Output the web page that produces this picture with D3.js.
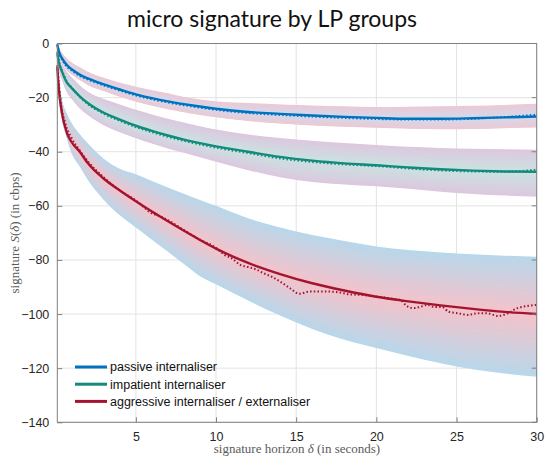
<!DOCTYPE html>
<html>
<head>
<meta charset="utf-8">
<script src="https://cdn.jsdelivr.net/npm/d3@7"></script>
<style>
  body { margin: 0; background: #fff; }
  svg { display: block; }
</style>
</head>
<body>
<svg id="chart" width="545" height="458"></svg>
<script>
// horizon grid (seconds)
const horizon = [0.1, 0.2, 0.4, 0.7, 1, 1.5, 2, 3, 4, 5, 6, 7, 8, 9, 10, 12, 14, 16, 18, 20, 22, 24, 26, 28, 30];

// fitted signatures
const passiveFit    = [-0.5, -3, -5.5, -8, -9.5, -11.5, -12.9, -15.1, -17, -18.8, -20.2, -21.4, -22.4, -23.3, -24.1, -25.3, -26, -26.6, -27.1, -27.5, -27.8, -27.8, -27.6, -27.3, -27];
const impatientFit  = [-3.6, -7, -10.5, -14.5, -16.5, -19.5, -22, -25.6, -28.1, -30.4, -32.3, -34, -35.5, -36.8, -38, -40, -41.9, -43.3, -44.3, -45, -45.8, -46.5, -47, -47.3, -47.4];
const aggressiveFit = [-8.6, -17, -26, -33, -36.5, -40, -44.2, -50, -54.3, -58.3, -62.1, -65.7, -69.2, -72.6, -75.8, -81.1, -85.2, -88.6, -91.3, -93.6, -95.3, -96.8, -98.1, -99.2, -100];

// confidence bands
const passiveUpper    = [0, -1.5, -3.5, -5.5, -7, -8.8, -10.4, -12.7, -14.5, -16, -17.3, -18.4, -19.8, -20.7, -21.4, -22, -22.5, -22.9, -23.2, -23.5, -23.4, -23.2, -23, -22.7, -22.3];
const passiveLower    = [-1, -4, -7, -10, -11.5, -13.5, -15.3, -17.6, -19.7, -21.5, -23, -24.3, -25.4, -26.4, -27.3, -28.6, -29.6, -30.3, -30.8, -31.1, -31.5, -31.7, -31.6, -31.3, -31];
const impatientUpper  = [-2, -4.5, -7.5, -10.5, -12.5, -15.5, -17.8, -20.5, -22.5, -24.5, -26.2, -27.8, -29.2, -30.6, -31.8, -33.6, -34.9, -35.9, -36.8, -37.5, -38.2, -38.6, -38.9, -39.1, -39.3];
const impatientLower  = [-4.5, -9.5, -13.5, -18, -20.5, -24, -26.4, -30.2, -32.8, -35, -37, -38.8, -40.4, -42, -43.7, -46.8, -49.4, -51.2, -52.1, -52.8, -53.7, -54.8, -55.6, -56.2, -56.6];
const aggressiveUpper = [-8, -14, -21, -26, -29.5, -33.5, -36.9, -42.6, -46.3, -48.3, -50.8, -53.2, -55.5, -57.8, -60, -64.6, -68, -70.8, -73, -75, -76.3, -77.2, -77.9, -78.4, -78.8];
const aggressiveLower = [-9, -20, -28.3, -35, -40.6, -45.5, -50.4, -57.8, -63.5, -68, -72.5, -77, -81.5, -86, -89, -95, -100.5, -105.5, -109.5, -112.5, -115.5, -118.2, -120.4, -122, -123.2];

// empirical (dotted) signatures
const passiveRaw   = [-0.3, -3.2, -6, -8.6, -10, -12, -13.3, -15.5, -17.4, -19.2, -20.6, -21.8, -22.8, -23.7, -24.5, -25.7, -26.4, -27, -27.5, -27.9, -28.1, -28.1, -27.8, -27.2, -26.3];
const impatientRaw = [-3, -6.5, -10, -14, -16.2, -19.8, -22.4, -26, -28.6, -30.9, -32.8, -34.5, -36, -37.3, -38.5, -40.5, -42.5, -43.8, -44.7, -45.3, -46.2, -46.9, -47.3, -47.4, -46.6];
const aggressiveRawX = [0.1, 0.3, 0.6, 1, 1.5, 2, 3, 4, 5, 6, 6.5, 7, 8, 9, 10, 10.5, 11, 11.5, 12, 12.5, 13, 13.5, 14, 14.6, 15.2, 15.8, 16.5, 17.1, 17.7, 18.3, 19, 20, 21, 21.5, 21.9, 22.3, 22.7, 23.2, 23.6, 24.1, 24.5, 25.1, 25.7, 26.3, 26.9, 27.6, 28.2, 28.8, 29.4, 30];
const aggressiveRaw  = [-8, -21, -29.5, -35, -39.5, -43.5, -49.5, -54.3, -58, -62.8, -63.8, -65.3, -69, -72.5, -75.5, -78, -79.5, -81.8, -82.6, -83.5, -85, -86.3, -88, -90.4, -92.5, -91.7, -91.7, -91.7, -92, -92.7, -92.9, -93.5, -94.3, -94.8, -97, -97.8, -97.4, -96.6, -97.4, -97.4, -99.1, -99.7, -100.3, -99.7, -99.7, -100.7, -99.7, -97.8, -97, -96.6];

const groupNames = ['passive internaliser', 'impatient internaliser', 'aggressive internaliser / externaliser'];
const xTicks = [5, 10, 15, 20, 25, 30];
const yTicks = [0, -20, -40, -60, -80, -100, -120, -140];

const groups = [
  { name: groupNames[0], color: '#0072BD', fit: passiveFit, upper: passiveUpper, lower: passiveLower,
    rawX: horizon, raw: passiveRaw, edge: '#ecc9d4', center: '#d3d9ec' },
  { name: groupNames[1], color: '#138a7c', fit: impatientFit, upper: impatientUpper, lower: impatientLower,
    rawX: horizon, raw: impatientRaw, edge: '#dcc8df', center: '#cbe2e1' },
  { name: groupNames[2], color: '#A2142F', fit: aggressiveFit, upper: aggressiveUpper, lower: aggressiveLower,
    rawX: aggressiveRawX, raw: aggressiveRaw, edge: '#b9d7ea', center: '#f3c3cb' }
];

const svg = d3.select('#chart');
const margin = { top: 43.5, left: 57.3 };
const innerWidth = 479.4;
const innerHeight = 378.8;

const xScale = d3.scaleLinear().domain([0.1, 30]).range([0, innerWidth]);
const yScale = d3.scaleLinear().domain([-140, 0]).range([innerHeight, 0]);

svg.append('text')
  .attr('x', 272)
  .attr('y', 27)
  .attr('text-anchor', 'middle')
  .attr('font-family', 'Lato, "Liberation Sans", sans-serif')
  .attr('font-size', 23)
  .attr('fill', '#111')
  .text('micro signature by LP groups');

const g = svg.append('g')
  .attr('transform', `translate(${margin.left},${margin.top})`);

// grid
g.append('g').selectAll('line').data(xTicks).enter().append('line')
  .attr('x1', d => xScale(d)).attr('x2', d => xScale(d))
  .attr('y1', 0).attr('y2', innerHeight)
  .attr('stroke', '#e3e3e3').attr('stroke-width', 1);
g.append('g').selectAll('line').data(yTicks).enter().append('line')
  .attr('x1', 0).attr('x2', innerWidth)
  .attr('y1', d => yScale(d)).attr('y2', d => yScale(d))
  .attr('stroke', '#e3e3e3').attr('stroke-width', 1);

// shaded bands: nested areas, outermost first, fading from the edge colour
// to the centre colour around the fitted line
const nLayers = 24;
const bandAt = (grp, t, j) => t <= 0.5
  ? grp.upper[j] + (grp.fit[j] - grp.upper[j]) * (t / 0.5)
  : grp.fit[j] + (grp.lower[j] - grp.fit[j]) * ((t - 0.5) / 0.5);

groups.forEach(grp => {
  const bandG = g.append('g');
  const colour = d3.interpolateRgb(grp.edge, grp.center);
  for (let k = 0; k < nLayers; k++) {
    const s = k / (2 * nLayers);
    const area = d3.area()
      .x(d => xScale(d))
      .y0((d, j) => yScale(bandAt(grp, s, j)))
      .y1((d, j) => yScale(bandAt(grp, 1 - s, j)))
      .curve(d3.curveMonotoneX);
    bandG.append('path')
      .attr('d', area(horizon))
      .attr('fill', colour(k / (nLayers - 1)));
  }
});

// lines
groups.forEach(grp => {
  const fitLine = d3.line()
    .x(d => xScale(d))
    .y((d, j) => yScale(grp.fit[j]))
    .curve(d3.curveMonotoneX);
  g.append('path')
    .attr('d', fitLine(horizon))
    .attr('fill', 'none')
    .attr('stroke', grp.color)
    .attr('stroke-width', 2.4);

  const rawLine = d3.line()
    .x(d => xScale(d))
    .y((d, j) => yScale(grp.raw[j]))
    .curve(d3.curveMonotoneX);
  g.append('path')
    .attr('d', rawLine(grp.rawX))
    .attr('fill', 'none')
    .attr('stroke', grp.color)
    .attr('stroke-width', 2)
    .attr('stroke-dasharray', '1.5 2.2');
});

// axes
const tickFont = '"Liberation Sans", Arial, sans-serif';
const xAxis = d3.axisBottom(xScale).tickValues(xTicks).tickSize(-5).tickPadding(10);
const yAxis = d3.axisLeft(yScale).tickValues(yTicks).tickSize(-5).tickPadding(8);

const xAxisG = g.append('g')
  .attr('transform', `translate(0,${innerHeight})`)
  .call(xAxis);
const yAxisG = g.append('g').call(yAxis);

[xAxisG, yAxisG].forEach(ax => {
  ax.select('.domain').remove();
  ax.selectAll('.tick line').attr('stroke', '#808080');
  ax.selectAll('.tick text')
    .attr('font-family', tickFont)
    .attr('font-size', 12.5)
    .attr('fill', '#262626');
});

// right side ticks
g.append('g').selectAll('line').data(yTicks).enter().append('line')
  .attr('x1', innerWidth).attr('x2', innerWidth - 5)
  .attr('y1', d => yScale(d)).attr('y2', d => yScale(d))
  .attr('stroke', '#808080');

g.append('rect')
  .attr('width', innerWidth)
  .attr('height', innerHeight)
  .attr('fill', 'none')
  .attr('stroke', '#808080')
  .attr('stroke-width', 1);

// axis labels
const labelFont = '"Liberation Serif", "DejaVu Serif", serif';
const xLabel = svg.append('text')
  .attr('x', margin.left + innerWidth / 2)
  .attr('y', 453)
  .attr('text-anchor', 'middle')
  .attr('font-family', labelFont)
  .attr('font-size', 13)
  .attr('fill', '#5a5a5a');
xLabel.append('tspan').text('signature horizon ');
xLabel.append('tspan').attr('font-style', 'italic').text('δ');
xLabel.append('tspan').text(' (in seconds)');

const yLabel = svg.append('text')
  .attr('transform', `translate(19,${margin.top + innerHeight / 2}) rotate(-90)`)
  .attr('text-anchor', 'middle')
  .attr('font-family', labelFont)
  .attr('font-size', 13)
  .attr('fill', '#5a5a5a');
yLabel.append('tspan').text('signature ');
yLabel.append('tspan').attr('font-style', 'italic').text('S');
yLabel.append('tspan').text('(');
yLabel.append('tspan').attr('font-style', 'italic').text('δ');
yLabel.append('tspan').text(') (in cbps)');

// legend
const legend = svg.append('g').attr('transform', 'translate(75,367)');
const rows = legend.selectAll('g').data(groups).enter().append('g')
  .attr('transform', (d, i) => `translate(0,${i * 17.2})`);
rows.append('line')
  .attr('x1', 0).attr('x2', 32)
  .attr('stroke', d => d.color)
  .attr('stroke-width', 3);
rows.append('text')
  .attr('x', 35)
  .attr('dy', '0.35em')
  .attr('font-family', tickFont)
  .attr('font-size', 12.5)
  .attr('fill', '#111')
  .text(d => d.name);
</script>
</body>
</html>
